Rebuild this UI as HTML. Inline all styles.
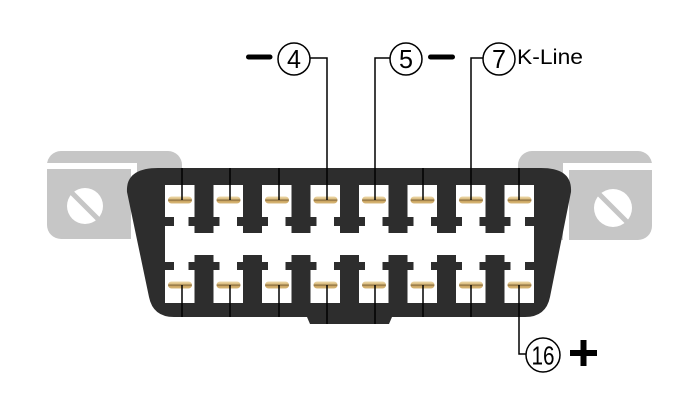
<!DOCTYPE html>
<html>
<head>
<meta charset="utf-8">
<style>
html,body{margin:0;padding:0;background:#fff;}
svg{display:block;}
</style>
</head>
<body>
<svg width="700" height="405" viewBox="0 0 700 405" xmlns="http://www.w3.org/2000/svg">
  <rect width="700" height="405" fill="#ffffff"/>

  <!-- Left bracket -->
  <rect x="47" y="151" width="135" height="88" rx="14" fill="#c6c6c6"/>
  <rect x="47" y="163" width="90" height="6" fill="#ffffff"/>
  <rect x="131" y="163" width="6" height="76" fill="#ffffff"/>
  <circle cx="85" cy="206" r="18" fill="#ffffff"/>
  <line x1="72" y1="193" x2="98" y2="219" stroke="#c6c6c6" stroke-width="5"/>

  <!-- Right bracket -->
  <rect x="518" y="151" width="134" height="89" rx="14" fill="#c6c6c6"/>
  <rect x="563" y="163" width="89" height="7" fill="#ffffff"/>
  <rect x="563" y="163" width="6" height="77" fill="#ffffff"/>
  <circle cx="613" cy="208" r="19" fill="#ffffff"/>
  <line x1="599" y1="194" x2="627" y2="222" stroke="#c6c6c6" stroke-width="5"/>

  <!-- Body -->
  <path d="M 158,168 L 541,168 C 561,168 572,175 571,192 L 550,297 Q 546,317 525,317 L 392,317 L 389,324 L 310,324 L 307,317 L 174,317 Q 153,317 149,297 L 127,192 C 126,175 138,168 158,168 Z" fill="#2d2d2d"/>

  <!-- Cavity -->
  <rect x="165" y="185" width="369" height="118" fill="#ffffff"/>
  <g fill="#2d2d2d">
    <!-- separators -->
    <rect x="194.5" y="185" width="19" height="48"/><rect x="188.5" y="217" width="31" height="9"/>
    <rect x="243" y="185" width="19" height="48"/><rect x="237" y="217" width="31" height="9"/>
    <rect x="291.5" y="185" width="19" height="48"/><rect x="285.5" y="217" width="31" height="9"/>
    <rect x="340" y="185" width="19" height="48"/><rect x="334" y="217" width="31" height="9"/>
    <rect x="388.5" y="185" width="19" height="48"/><rect x="382.5" y="217" width="31" height="9"/>
    <rect x="437" y="185" width="19" height="48"/><rect x="431" y="217" width="31" height="9"/>
    <rect x="485.5" y="185" width="19" height="48"/><rect x="479.5" y="217" width="31" height="9"/>

    <rect x="194.5" y="255" width="19" height="48"/><rect x="188.5" y="262" width="31" height="8"/>
    <rect x="243" y="255" width="19" height="48"/><rect x="237" y="262" width="31" height="8"/>
    <rect x="291.5" y="255" width="19" height="48"/><rect x="285.5" y="262" width="31" height="8"/>
    <rect x="340" y="255" width="19" height="48"/><rect x="334" y="262" width="31" height="8"/>
    <rect x="388.5" y="255" width="19" height="48"/><rect x="382.5" y="262" width="31" height="8"/>
    <rect x="437" y="255" width="19" height="48"/><rect x="431" y="262" width="31" height="8"/>
    <rect x="485.5" y="255" width="19" height="48"/><rect x="479.5" y="262" width="31" height="8"/>

    <!-- edge notches -->
    <rect x="165" y="217" width="9" height="9"/><rect x="525" y="217" width="9" height="9"/>
    <rect x="165" y="262" width="9" height="8"/><rect x="525" y="262" width="9" height="8"/>
  </g>

  <!-- Pins -->
  <defs>
    <linearGradient id="gold" x1="0" y1="0" x2="0" y2="1">
      <stop offset="0" stop-color="#efdcae"/>
      <stop offset="0.4" stop-color="#d8b878"/>
      <stop offset="0.5" stop-color="#5e4a2c"/>
      <stop offset="0.62" stop-color="#c9a35e"/>
      <stop offset="1" stop-color="#d9b97c"/>
    </linearGradient>
  </defs>
  <g fill="url(#gold)">
    <rect x="168" y="196.5" width="24" height="7" rx="3.5"/>
    <rect x="216.5" y="196.5" width="24" height="7" rx="3.5"/>
    <rect x="265" y="196.5" width="24" height="7" rx="3.5"/>
    <rect x="313.5" y="196.5" width="24" height="7" rx="3.5"/>
    <rect x="362" y="196.5" width="24" height="7" rx="3.5"/>
    <rect x="410.5" y="196.5" width="24" height="7" rx="3.5"/>
    <rect x="459" y="196.5" width="24" height="7" rx="3.5"/>
    <rect x="507.5" y="196.5" width="24" height="7" rx="3.5"/>

    <rect x="168" y="281.5" width="24" height="7" rx="3.5"/>
    <rect x="216.5" y="281.5" width="24" height="7" rx="3.5"/>
    <rect x="265" y="281.5" width="24" height="7" rx="3.5"/>
    <rect x="313.5" y="281.5" width="24" height="7" rx="3.5"/>
    <rect x="362" y="281.5" width="24" height="7" rx="3.5"/>
    <rect x="410.5" y="281.5" width="24" height="7" rx="3.5"/>
    <rect x="459" y="281.5" width="24" height="7" rx="3.5"/>
    <rect x="507.5" y="281.5" width="24" height="7" rx="3.5"/>
  </g>

  <!-- Connector lines -->
  <g stroke="#000" stroke-width="1.5" fill="none">
    <line x1="182" y1="168" x2="182" y2="200"/>
    <line x1="230" y1="168" x2="230" y2="200"/>
    <line x1="279" y1="168" x2="279" y2="200"/>
    <polyline points="310,58 327,58 327,200"/>
    <polyline points="390,58 375,58 375,200"/>
    <line x1="423" y1="168" x2="423" y2="200"/>
    <polyline points="483,58 471,58 471,200"/>
    <line x1="519" y1="168" x2="519" y2="200"/>

    <line x1="182" y1="285" x2="182" y2="317"/>
    <line x1="230" y1="285" x2="230" y2="317"/>
    <line x1="279" y1="285" x2="279" y2="317"/>
    <line x1="327" y1="285" x2="327" y2="324"/>
    <line x1="375" y1="285" x2="375" y2="324"/>
    <line x1="423" y1="285" x2="423" y2="317"/>
    <line x1="471" y1="285" x2="471" y2="317"/>
    <polyline points="519,285 519,354 526,354"/>

    <circle cx="294" cy="59" r="16"/>
    <circle cx="406" cy="59" r="16"/>
    <circle cx="499" cy="59" r="16"/>
    <circle cx="543" cy="355" r="17"/>
  </g>

  <!-- Minus bars -->
  <line x1="248.5" y1="57" x2="270" y2="57" stroke="#000" stroke-width="5" stroke-linecap="round"/>
  <line x1="430.5" y1="57" x2="452.5" y2="57" stroke="#000" stroke-width="5" stroke-linecap="round"/>

  <!-- Plus -->
  <rect x="570" y="350" width="27" height="6" fill="#000"/>
  <rect x="580.5" y="340" width="6" height="26" fill="#000"/>

  <!-- Labels -->
  <g font-family="Liberation Sans, DejaVu Sans, sans-serif" fill="#000">
    <text x="294" y="68" font-size="26" text-anchor="middle" textLength="14" lengthAdjust="spacingAndGlyphs">4</text>
    <text x="406" y="68" font-size="26" text-anchor="middle" textLength="14" lengthAdjust="spacingAndGlyphs">5</text>
    <text x="499" y="68" font-size="26" text-anchor="middle" textLength="14" lengthAdjust="spacingAndGlyphs">7</text>
    <text x="543" y="364.5" font-size="26" text-anchor="middle" textLength="23" lengthAdjust="spacingAndGlyphs">16</text>
    <text x="517" y="64" font-size="21" textLength="66" lengthAdjust="spacingAndGlyphs">K-Line</text>
  </g>
</svg>
</body>
</html>
